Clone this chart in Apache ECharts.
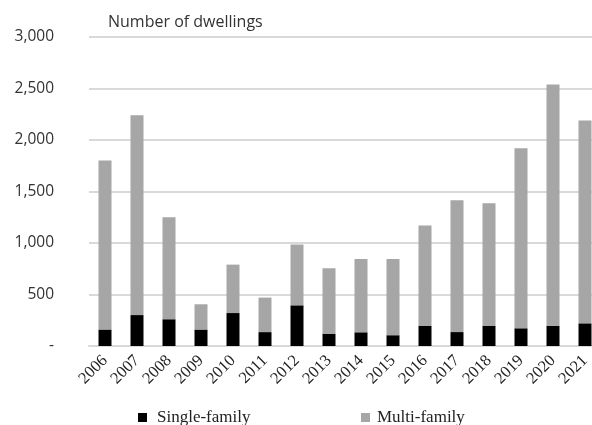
<!DOCTYPE html>
<html>
<head>
<meta charset="utf-8">
<script src="https://cdn.jsdelivr.net/npm/echarts@6/dist/echarts.min.js"></script>
<style>html,body{margin:0;padding:0;background:#fff}#c{width:592px;height:425px}</style>
</head>
<body>
<div id="c"></div>
<script>
const years = ['2006','2007','2008','2009','2010','2011','2012','2013','2014','2015','2016','2017','2018','2019','2020','2021'];
const singleFamily = [160, 300, 260, 160, 320, 135, 395, 120, 133, 105, 195, 135, 195, 172, 197, 220];
const multiFamily  = [1640, 1940, 990, 245, 470, 335, 590, 635, 712, 740, 975, 1280, 1190, 1748, 2343, 1970];
const yTicks = [0, 500, 1000, 1500, 2000, 2500, 3000];

const chart = echarts.init(document.getElementById('c'), null, {renderer: 'canvas'});
chart.setOption({
  animation: false,
  backgroundColor: '#fff',
  graphic: [{
    type: 'text', left: 108, top: 14,
    style: { text: 'Number of dwellings', font: '16px "Open Sans"', fill: '#333' }
  }],
  legend: [
    { data: ['Single-family'], left: 133, top: 404, icon: 'rect', itemWidth: 9, itemHeight: 9,
      textStyle: { fontFamily: 'Liberation Serif', fontSize: 17, color: '#222', padding: [0,0,0,5] } },
    { data: ['Multi-family'], left: 356, top: 404, icon: 'rect', itemWidth: 9, itemHeight: 9,
      textStyle: { fontFamily: 'Liberation Serif', fontSize: 17, color: '#222', padding: [0,0,0,2] } }
  ],
  grid: { left: 89, right: -9, top: 37, bottom: 79, containLabel: false, outerBoundsMode: 'none' },
  xAxis: {
    type: 'category', data: years,
    axisLine: { lineStyle: { color: '#d9d9d9', width: 2 } },
    axisTick: { show: false },
    axisLabel: { rotate: 45, fontFamily: 'Liberation Serif', fontSize: 16.5, color: '#222', margin: 12, interval: 0 }
  },
  yAxis: {
    type: 'value', min: 0, max: 3000, interval: 500,
    axisLine: { show: false }, axisTick: { show: false },
    splitLine: { lineStyle: { color: '#d9d9d9', width: 2 } },
    axisLabel: {
      margin: 35, fontFamily: 'Open Sans', fontSize: 15.5, color: '#333',
      formatter: v => v === 0 ? '-' : v.toLocaleString('en-US')
    }
  },
  series: [
    { name: 'Single-family', type: 'bar', stack: 'a', data: singleFamily, barWidth: 13,
      itemStyle: { color: '#000000' } },
    { name: 'Multi-family', type: 'bar', stack: 'a', data: multiFamily, barWidth: 13,
      itemStyle: { color: '#a6a6a6' } }
  ]
});
</script>
</body>
</html>
